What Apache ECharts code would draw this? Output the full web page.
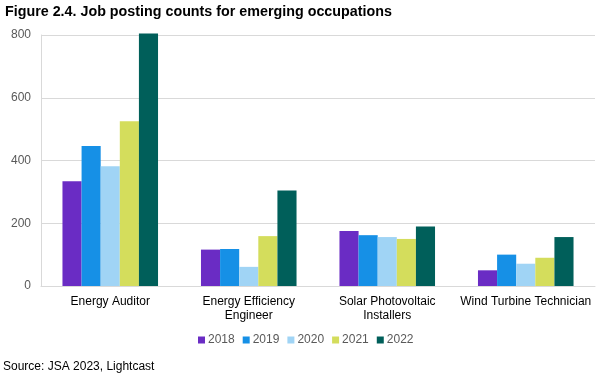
<!DOCTYPE html>
<html><head><meta charset="utf-8">
<script src="https://cdn.jsdelivr.net/npm/echarts@6/dist/echarts.min.js"></script>
<style>html,body{margin:0;padding:0;background:#fff}#c{width:600px;height:378px}</style>
</head><body><div id="c"></div>
<script>
const categories = ['Energy Auditor', 'Energy Efficiency\nEngineer', 'Solar Photovoltaic\nInstallers', 'Wind Turbine Technician'];
const years = ['2018', '2019', '2020', '2021', '2022'];
const v2018 = [334, 116, 175, 50];
const v2019 = [446, 118, 162, 100];
const v2020 = [382, 61, 156, 71];
const v2021 = [525, 159, 150, 90];
const v2022 = [805, 304, 190, 156];
const yTicks = [0, 200, 400, 600, 800];
const colors = ['#6a2cc4', '#1690e6', '#a0d4f5', '#d4dd5c', '#005f5a'];
const values = [v2018, v2019, v2020, v2021, v2022];
const font = 'Liberation Sans, Arial, sans-serif';
const chart = echarts.init(document.getElementById('c'));
chart.setOption({
  animation: false,
  title: { text: 'Figure 2.4. Job posting counts for emerging occupations', left: 0, top: 0,
    textStyle: { fontFamily: font, fontSize: 14.3, fontWeight: 'bold', color: '#000' } },
  graphic: [{ type: 'text', left: 3, top: 361, style: { text: 'Source: JSA 2023, Lightcast', font: '12px ' + font, fill: '#000' } }],
  legend: { bottom: 27, left: 193, itemWidth: 7, itemHeight: 7, itemGap: 8, icon: 'rect',
    textStyle: { fontFamily: font, fontSize: 12, color: '#595959', padding: [0, 0, 0, -2] }, data: years },
  grid: { left: 41, right: 5, top: 35, bottom: 92 },
  xAxis: { type: 'category', data: categories,
    axisLine: { lineStyle: { color: '#d9d9d9' } }, axisTick: { show: false },
    axisLabel: { fontFamily: font, fontSize: 12, color: '#000', lineHeight: 14, margin: 9, interval: 0 } },
  yAxis: { type: 'value', min: yTicks[0], max: yTicks[yTicks.length - 1], interval: 200,
    axisLine: { show: true, lineStyle: { color: '#d9d9d9' } }, axisTick: { show: false },
    splitLine: { lineStyle: { color: '#d9d9d9' } },
    axisLabel: { fontFamily: font, fontSize: 12, color: '#595959', margin: 10 } },
  series: years.map((y, i) => ({
    name: y, type: 'bar', data: values[i], clip: false,
    barGap: '0%', barCategoryGap: '31%',
    itemStyle: { color: colors[i] }
  }))
});
</script></body></html>
